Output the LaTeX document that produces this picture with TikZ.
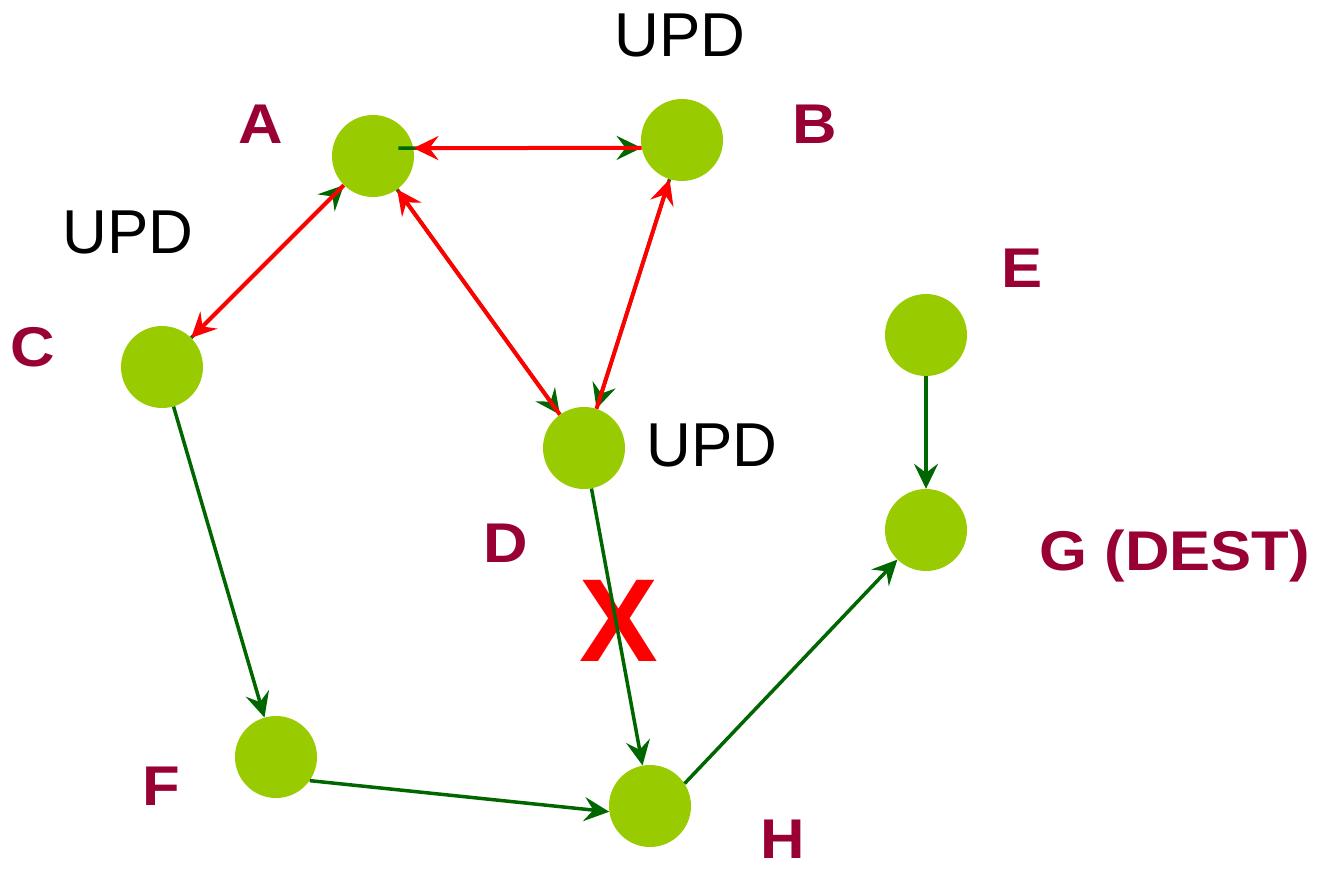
\documentclass[tikz,border=0pt]{standalone}
\usepackage{fontspec}
\setmainfont{Liberation Sans}
\newfontfamily\lblfont[FakeStretch=1.1]{Liberation Sans}
\usetikzlibrary{arrows.meta,calc}
\definecolor{nodegreen}{HTML}{99CC00}
\definecolor{edgegreen}{HTML}{006600}
\definecolor{lblred}{HTML}{990033}
\begin{document}
\begin{tikzpicture}[x=1pt,y=-1pt,
  vertex/.style={circle,fill=nodegreen,minimum size=82pt,inner sep=0pt},
  lbl/.style={text=lblred,font=\lblfont\fontsize{56}{58}\selectfont\bfseries,inner sep=0pt},
  upd/.style={text=black,font=\fontsize{62}{64}\selectfont,inner sep=0pt},
  garrow/.style={draw=edgegreen,line width=3.5pt,-{Stealth[length=25pt,width=24pt,inset=9pt]}},
  rarrow/.style={draw=red,line width=4pt,-{Stealth[length=25pt,width=24pt,inset=9pt]}},
]
\useasboundingbox (0,0) rectangle (1329,872);

% nodes
\node[vertex] (A) at (373,156) {};
\node[vertex] (B) at (682,140) {};
\node[vertex] (C) at (162,367) {};
\node[vertex] (D) at (584,448) {};
\node[vertex] (E) at (926,335) {};
\node[vertex] (G) at (926,530) {};
\node[vertex] (F) at (276,757) {};
\node[vertex] (H) at (650,806) {};

% labels
\node[lbl] (lA) at (261,124) {A};
\node[lbl] (lB) at (815,124) {B};
\node[lbl] (lC) at (33,347) {C};
\node[lbl] (lD) at (506,543) {D};
\node[lbl] (lE) at (1022,268) {E};
\node[lbl] (lF) at (161,786) {F};
\node[lbl] (lG) at (1175,556) {G (DEST)};
\node[lbl] (lH) at (783,839) {H};
\node[upd] (u1) at (680,35) {UPD};
\node[upd] (u2) at (128,232) {UPD};
\node[upd] (u3) at (712,445) {UPD};

% broken link mark
\node[text=red,font=\fontsize{118}{120}\selectfont\bfseries,inner sep=0pt] (X) at (619,621) {X};

% green routes
\draw[garrow] ($(A.11)+(-15,0)$) -- (B.191);
\draw[garrow] (C) -- (A);
\draw[garrow] (A) -- (D);
\draw[garrow] (B) -- (D);
\draw[garrow] (C) -- (F);
\draw[garrow] (F.-35) -- (H.188);
\draw[garrow] (D) -- (H);
\draw[garrow] (H.33) -- (G.226);
\draw[garrow] (E) -- (G);

% red update messages
\draw[rarrow] (B.191) -- (A.11);
\draw[rarrow] (A) -- (C);
\draw[rarrow] (D) -- (A);
\draw[rarrow] (D) -- (B);
\end{tikzpicture}
\end{document}
